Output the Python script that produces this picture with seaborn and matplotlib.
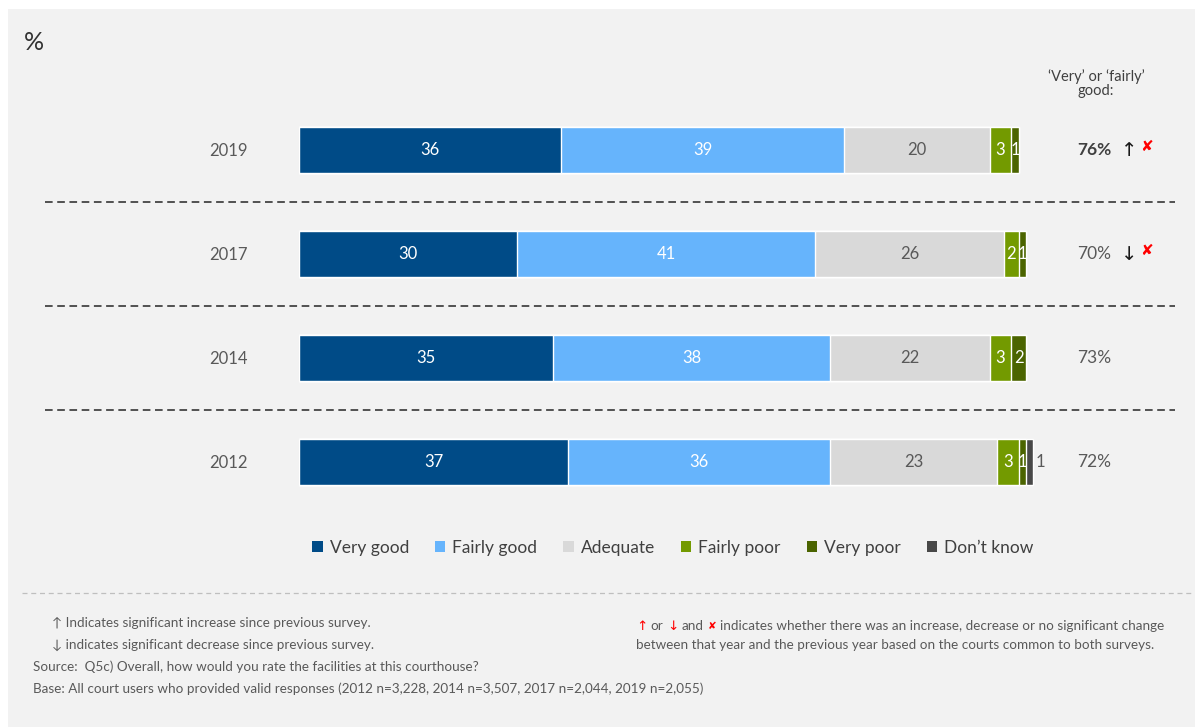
import matplotlib
matplotlib.use("Agg")
import matplotlib.pyplot as plt
from matplotlib.patches import Rectangle, Patch
import pandas as pd
import seaborn as sns

# Survey results: rating of courthouse facilities (%)
years = ["2019", "2017", "2014", "2012"]
categories = ["Very good", "Fairly good", "Adequate", "Fairly poor", "Very poor", "Don\u2019t know"]
very_good = [36, 30, 35, 37]
fairly_good = [39, 41, 38, 36]
adequate = [20, 26, 22, 23]
fairly_poor = [3, 2, 3, 3]
very_poor = [1, 1, 2, 1]
dont_know = [0, 0, 0, 1]
good_total = [76, 70, 73, 72]
change_arrow = ["\u2191", "\u2193", "", ""]
change_cross = ["\u2718", "\u2718", "", ""]

colors = ["#004b87", "#66b4fc", "#d9d9d9", "#739a00", "#4b6400", "#484848"]
label_colors = ["white", "white", "#595959", "white", "white", "#595959"]

series = [very_good, fairly_good, adequate, fairly_poor, very_poor, dont_know]

sns.set_theme(style="white")
plt.rcParams["font.family"] = ["Lato", "DejaVu Sans"]

W, H = 1195, 727
fig = plt.figure(figsize=(W / 100, H / 100), dpi=100)
fig.patch.set_facecolor("white")
fig.patches.append(Rectangle((8 / W, 0), 1, 1 - 9 / H, transform=fig.transFigure,
                             facecolor="#f2f2f2", edgecolor="none", zorder=-10))

# bar axes: x 0..102 spans px 299..1040.5, rows at px 150..462
XMAX = 102
x0, x1 = 299, 299 + 7.27 * XMAX
ytop, ybot = 98, 514
ax = fig.add_axes([x0 / W, 1 - ybot / H, (x1 - x0) / W, (ybot - ytop) / H])
ax.set_facecolor("none")

# cumulative totals, drawn from the longest down so each segment sits on top
df = pd.DataFrame({"year": years})
cum = []
running = [0] * len(years)
for s in series:
    running = [r + v for r, v in zip(running, s)]
    cum.append(list(running))

for i in range(len(series) - 1, -1, -1):
    df["total"] = cum[i]
    sns.barplot(data=df, x="total", y="year", order=years, orient="h",
                color=colors[i], saturation=1, width=0.435, errorbar=None,
                edgecolor="white", linewidth=1.0, ax=ax)

ax.set_xlim(0, XMAX)
ax.set_ylim(3.5, -0.5)
ax.set_xlabel("")
ax.set_ylabel("")
ax.set_xticks([])
for sp in ax.spines.values():
    sp.set_visible(False)
ax.tick_params(axis="y", length=0, pad=37, labelsize=12, labelcolor="#595959")

# segment values
for r, yr in enumerate(years):
    start = 0
    for i, s in enumerate(series):
        v = s[r]
        if v > 0:
            if i == 5:
                ax.text(start + v + 0.3, r, f"{v}", ha="left", va="center",
                        fontsize=12, color=label_colors[i])
            else:
                ax.text(start + v / 2, r, f"{v}", ha="center", va="center",
                        fontsize=12, color=label_colors[i])
        start += v

def fx(px):
    return (px - x0) / (x1 - x0)

# dashed separators between years
for yy in [0.5, 1.5, 2.5]:
    ax.plot([fx(45), fx(1175)], [yy, yy],
            transform=ax.get_yaxis_transform(), clip_on=False,
            color="#262626", linewidth=1.1, linestyle=(0, (5, 3)))

# right column: share rating very or fairly good
ax.text(fx(1096), -0.64, "\u2018Very\u2019 or \u2018fairly\u2019\ngood:", transform=ax.get_yaxis_transform(),
        ha="center", va="center", fontsize=10.5, color="#404040", linespacing=1.05, clip_on=False)
for r in range(len(years)):
    bold = r == 0
    ax.text(fx(1094), r, f"{good_total[r]}%", transform=ax.get_yaxis_transform(),
            ha="center", va="center", fontsize=12.5, clip_on=False,
            fontweight="bold" if bold else "normal",
            color="#404040" if bold else "#595959")
    if change_arrow[r]:
        ax.text(fx(1129), r, change_arrow[r], transform=ax.get_yaxis_transform(),
                ha="center", va="center", fontsize=14, color="#1a1a1a",
                family="DejaVu Sans", clip_on=False)
        ax.text(fx(1146), r - 0.03, change_cross[r], transform=ax.get_yaxis_transform(),
                ha="center", va="center", fontsize=11, color="#ff0000",
                family="DejaVu Sans", clip_on=False)

# unit mark
fig.text(24 / W, 1 - 42 / H, "%", fontsize=18, color="#333333", ha="left", va="center")

# legend
handles = [Patch(facecolor=c, edgecolor="none") for c in colors]
fig.legend(handles, categories, loc="center", bbox_to_anchor=(673 / W, 1 - 548 / H),
           ncol=6, frameon=False, fontsize=12.5, handlelength=0.6, handleheight=0.6,
           handletextpad=0.4, columnspacing=1.5, labelcolor="#404040")

# footnote separator
fig.add_artist(plt.Line2D([22 / W, 1], [1 - 593 / H, 1 - 593 / H], transform=fig.transFigure,
                          color="#bfbfbf", linewidth=0.9, linestyle=(0, (4, 3))))

note_c = "#595959"
fs = 9.7
fig.text(52 / W, 1 - 623 / H, "\u2191 Indicates significant increase since previous survey.",
         fontsize=fs, color=note_c, va="center")
fig.text(52 / W, 1 - 645 / H, "\u2193 indicates significant decrease since previous survey.",
         fontsize=fs, color=note_c, va="center")
fig.text(33 / W, 1 - 667 / H, "Source:  Q5c) Overall, how would you rate the facilities at this courthouse?",
         fontsize=fs, color=note_c, va="center")
fig.text(33 / W, 1 - 689 / H,
         "Base: All court users who provided valid responses (2012 n=3,228, 2014 n=3,507, 2017 n=2,044, 2019 n=2,055)",
         fontsize=fs, color=note_c, va="center")

# right-hand note with red markers, each piece placed after the previous one
pieces = [("or", note_c, fs, None),
          ("\u2193", "#ff0000", fs, "DejaVu Sans"), ("and", note_c, fs, None),
          ("\u2718", "#ff0000", 7.5, "DejaVu Sans"),
          ("indicates whether there was an increase, decrease or no significant change", note_c, fs, None)]
prev = fig.text(636 / W, 1 - 626 / H, "\u2191", fontsize=fs, color="#ff0000",
                va="center", family="DejaVu Sans")
for txt, col, size, fam in pieces:
    kw = {"family": fam} if fam else {}
    prev = plt.annotate(txt, xy=(1, 0.5), xycoords=prev, xytext=(2.5, 0),
                        textcoords="offset points", va="center", ha="left",
                        fontsize=size, color=col, annotation_clip=False, **kw)
fig.text(636 / W, 1 - 645 / H,
         "between that year and the previous year based on the courts common to both surveys.",
         fontsize=fs, color=note_c, va="center")

fig.savefig("out.png", dpi=100, facecolor=fig.get_facecolor())
